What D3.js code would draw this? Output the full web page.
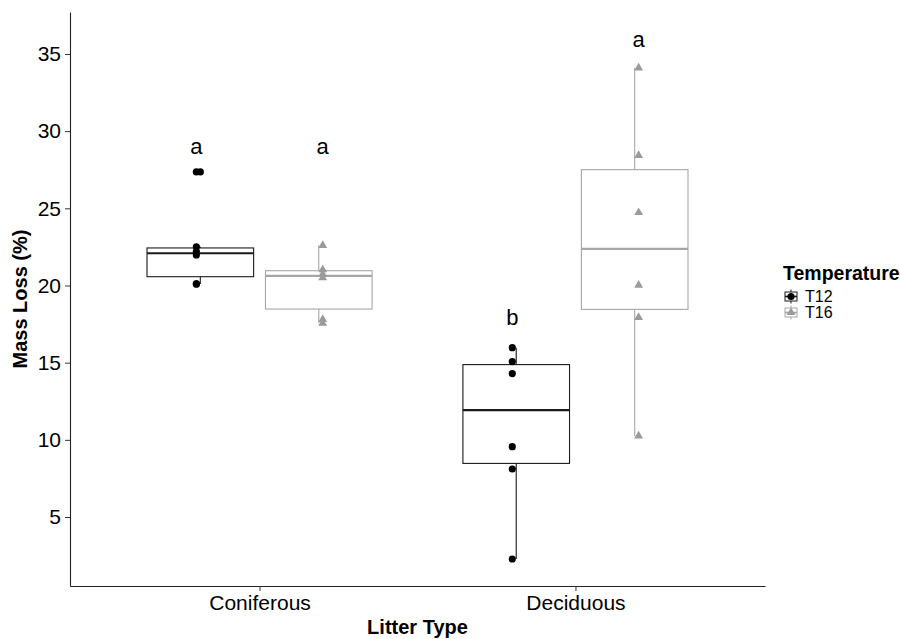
<!DOCTYPE html>
<html>
<head>
<meta charset="utf-8">
<script src="https://cdn.jsdelivr.net/npm/d3@7"></script>
<style>
  html, body { margin: 0; padding: 0; background: #ffffff; }
  svg { display: block; font-family: "Liberation Sans", Arial, Helvetica, sans-serif; }
</style>
</head>
<body>
<svg id="chart" width="900" height="639"></svg>
<script>
// Litter types on the x axis and temperature treatments within each
const litterTypes = ["Coniferous", "Deciduous"];
const temperatures = ["T12", "T16"];

// Mass loss (%) of each replicate, per litter type and temperature
const coniferousT12 = [27.36, 22.51, 22.2, 21.98, 20.1, 20.1];
const coniferousT16 = [22.6, 21.03, 20.74, 20.5, 17.8, 17.55];
const deciduousT12 = [15.97, 15.07, 14.29, 9.56, 8.11, 2.28];
const deciduousT16 = [34.1, 28.43, 24.73, 20.02, 17.93, 10.25];

// Significance letters and the height they sit at
const letterLabels = ["a", "a", "b", "a"];
const letterHeights = [29.0, 29.0, 17.9, 35.9];

// Y-axis ticks
const yTicks = [5, 10, 15, 20, 25, 30, 35];

const groups = [
  { litter: "Coniferous", temp: "T12", values: coniferousT12 },
  { litter: "Coniferous", temp: "T16", values: coniferousT16 },
  { litter: "Deciduous", temp: "T12", values: deciduousT12 },
  { litter: "Deciduous", temp: "T16", values: deciduousT16 }
];

const colors = { T12: "#000000", T16: "#9b9b9b" };
const boxStroke = { T12: "#1a1a1a", T16: "#a6a6a6" };

const svg = d3.select("#chart");
const plotLeft = 70, plotRight = 765, plotTop = 12, plotBottom = 586;

const x = d3.scalePoint().domain(litterTypes).range([plotLeft, plotRight]).padding(0.6);
const step = x.step();
const y = d3.scaleLinear().domain([0.53, 37.72]).range([plotBottom, plotTop]);

const boxOffset = { T12: -0.1875 * step, T16: 0.1875 * step };
const pointOffset = { T12: -0.2 * step, T16: 0.2 * step };
const boxWidth = 0.3375 * step;

// Tukey box statistics (R type-7 quantiles)
function boxStats(values) {
  const s = values.slice().sort(d3.ascending);
  const q1 = d3.quantile(s, 0.25), med = d3.quantile(s, 0.5), q3 = d3.quantile(s, 0.75);
  const iqr = q3 - q1;
  const lo = q1 - 1.5 * iqr, hi = q3 + 1.5 * iqr;
  const inside = s.filter(v => v >= lo && v <= hi);
  return {
    q1, med, q3,
    wLo: d3.min(inside), wHi: d3.max(inside),
    outliers: s.filter(v => v < lo || v > hi)
  };
}

const triangle = d3.symbol().type(d3.symbolTriangle).size(34);

// Boxes, whiskers and outliers
groups.forEach(g => {
  const st = boxStats(g.values);
  const cx = x(g.litter) + boxOffset[g.temp];
  const gEl = svg.append("g").attr("class", "box");
  const col = boxStroke[g.temp];
  gEl.append("line").attr("x1", cx).attr("x2", cx)
    .attr("y1", y(st.q3)).attr("y2", y(st.wHi))
    .attr("stroke", col).attr("stroke-width", 1.1);
  gEl.append("line").attr("x1", cx).attr("x2", cx)
    .attr("y1", y(st.q1)).attr("y2", y(st.wLo))
    .attr("stroke", col).attr("stroke-width", 1.1);
  gEl.append("rect")
    .attr("x", cx - boxWidth / 2).attr("width", boxWidth)
    .attr("y", y(st.q3)).attr("height", y(st.q1) - y(st.q3))
    .attr("fill", "#ffffff").attr("stroke", col).attr("stroke-width", 1.1);
  gEl.append("line")
    .attr("x1", cx - boxWidth / 2).attr("x2", cx + boxWidth / 2)
    .attr("y1", y(st.med)).attr("y2", y(st.med))
    .attr("stroke", col).attr("stroke-width", 2.2);
  st.outliers.forEach(v => {
    if (g.temp === "T12") {
      gEl.append("circle").attr("cx", cx).attr("cy", y(v)).attr("r", 3.6).attr("fill", colors[g.temp]);
    } else {
      gEl.append("path").attr("d", triangle).attr("transform", `translate(${cx},${y(v)})`).attr("fill", colors[g.temp]);
    }
  });
});

// Individual replicates
groups.forEach(g => {
  const px = x(g.litter) + pointOffset[g.temp];
  const gEl = svg.append("g").attr("class", "points");
  g.values.forEach(v => {
    if (g.temp === "T12") {
      gEl.append("circle").attr("cx", px).attr("cy", y(v)).attr("r", 3.6).attr("fill", colors.T12);
    } else {
      gEl.append("path").attr("d", triangle).attr("transform", `translate(${px},${y(v)})`).attr("fill", colors.T16);
    }
  });
});

// Significance letters above each group
groups.forEach((g, i) => {
  svg.append("text")
    .attr("x", x(g.litter) + pointOffset[g.temp])
    .attr("y", y(letterHeights[i]))
    .attr("dy", "0.33em")
    .attr("text-anchor", "middle")
    .attr("font-size", 22)
    .attr("fill", "#000")
    .text(letterLabels[i]);
});

// Axes
const yAxis = svg.append("g").attr("transform", `translate(${plotLeft},0)`)
  .call(d3.axisLeft(y).tickValues(yTicks).tickSize(5).tickSizeOuter(0).tickPadding(4));
const xAxis = svg.append("g").attr("transform", `translate(0,${plotBottom})`)
  .call(d3.axisBottom(x).tickSize(5).tickSizeOuter(0).tickPadding(4));
[yAxis, xAxis].forEach(a => {
  a.select(".domain").attr("stroke", "#222").attr("stroke-width", 1.1);
  a.selectAll(".tick line").attr("stroke", "#333").attr("stroke-width", 1);
  a.selectAll(".tick text").attr("font-size", 21).attr("fill", "#000")
    .attr("font-family", "'Liberation Sans', Arial, Helvetica, sans-serif");
});

// Axis titles
svg.append("text")
  .attr("x", (plotLeft + plotRight) / 2).attr("y", 634)
  .attr("text-anchor", "middle").attr("font-size", 20).attr("font-weight", "bold")
  .text("Litter Type");
svg.append("text")
  .attr("transform", `translate(27,${(plotTop + plotBottom) / 2}) rotate(-90)`)
  .attr("text-anchor", "middle").attr("font-size", 20).attr("font-weight", "bold")
  .text("Mass Loss (%)");

// Legend
const legend = svg.append("g").attr("transform", "translate(783,0)");
legend.append("text").attr("x", 0).attr("y", 280)
  .attr("font-size", 19.5).attr("font-weight", "bold").text("Temperature");
temperatures.forEach((t, i) => {
  const cy = 296.5 + i * 16;
  const k = legend.append("g");
  const col = boxStroke[t];
  k.append("line").attr("x1", 8).attr("x2", 8).attr("y1", cy - 7).attr("y2", cy + 7)
    .attr("stroke", col).attr("stroke-width", 1);
  k.append("rect").attr("x", 2).attr("y", cy - 4.5).attr("width", 12).attr("height", 9)
    .attr("fill", "#fff").attr("stroke", col).attr("stroke-width", 1);
  k.append("line").attr("x1", 2).attr("x2", 14).attr("y1", cy).attr("y2", cy)
    .attr("stroke", col).attr("stroke-width", 1.6);
  if (t === "T12") {
    k.append("circle").attr("cx", 8).attr("cy", cy).attr("r", 3.6).attr("fill", colors.T12);
  } else {
    k.append("path").attr("d", triangle).attr("transform", `translate(8,${cy})`).attr("fill", colors.T16);
  }
  legend.append("text").attr("x", 22).attr("y", cy).attr("dy", "0.35em")
    .attr("font-size", 16).attr("fill", "#000").text(t);
});
</script>
</body>
</html>
